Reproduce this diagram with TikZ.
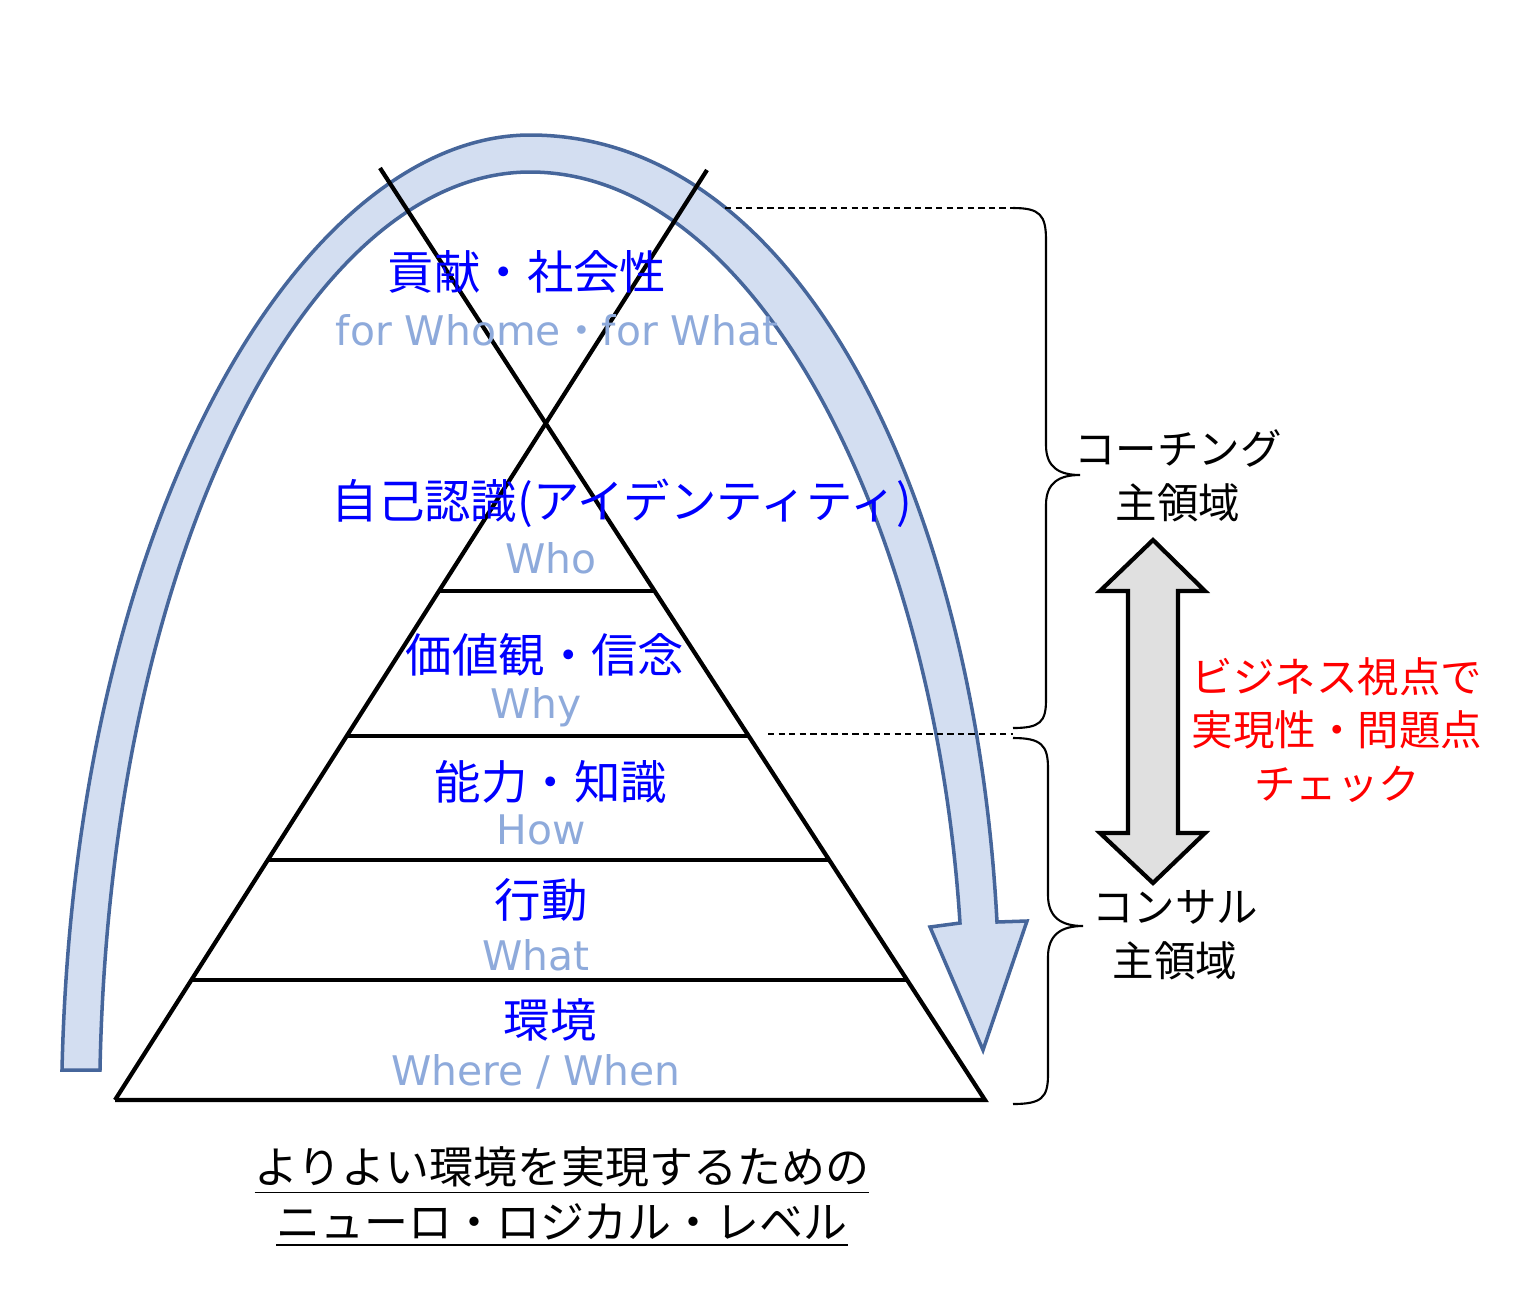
\documentclass[tikz,border=0pt]{standalone}
\usepackage{fontspec}
\setmainfont{Noto Sans CJK JP}
\newfontfamily\cjkfont{Noto Sans CJK JP}
\newfontfamily\latinfont{DejaVu Sans}
\definecolor{archline}{HTML}{46669B}
\definecolor{archfill}{HTML}{D3DEF1}
\definecolor{enblue}{HTML}{8EAADB}
\definecolor{arrowgray}{HTML}{E0E0E0}
\begin{document}
\begin{tikzpicture}[x=0.01cm,y=-0.01cm,
    jp/.style={text=blue,font=\fontsize{13.2pt}{16pt}\selectfont},
    en/.style={text=enblue,font=\latinfont\fontsize{11.6pt}{14pt}\selectfont},
    side/.style={align=center,font=\fontsize{11.8pt}{15.5pt}\selectfont}]
\useasboundingbox (0,0) rectangle (1535,1299);

% arch arrow
\draw[archline,fill=archfill,line width=1pt,line join=miter]
  (62,1070) .. controls (75,500) and (310,135) .. (530,135)
  .. controls (800,135) and (975,500) .. (997,922)
  -- (1027,921) -- (983,1050) -- (930,927) -- (960,923)
  .. controls (935,530) and (760,172) .. (530,172)
  .. controls (310,172) and (110,550) .. (100,1070) -- cycle;

% pyramid
\draw[line width=1.2pt] (115,1100) -- (985,1100) -- (380,168);
\draw[line width=1.2pt] (115,1100) -- (707,170);
\foreach \y/\l/\r in {591/440/655, 736/347/749, 860/268/829, 980/192/906}
{
    \draw[line width=1pt] (\l,\y) -- (\r,\y);
}

% labels
\foreach \n/\x/\y/\t in {1/527/272/貢献・社会性, 2/622/503/自己認識(アイデンティティ), 3/545/655/価値観・信念,
    4/551/782/能力・知識, 5/541/900/行動, 6/550/1020/環境}
{
    \node[jp] (jp\n) at (\x,\y) {\t};
}
\foreach \n/\x/\y/\t in {1/557/330/{for Whome{\cjkfont ・}for What}, 2/551/558/Who, 3/536/707/Why,
    4/541/830/How, 5/536/955/What, 6/536/1072/{Where / When}}
{
    \node[en] (en\n) at (\x,\y) {\t};
}

% dashed guides and braces
\draw[line width=0.5pt,dash pattern=on 1.8pt off 1.2pt] (725,208) -- (1013,208);
\draw[line width=0.5pt,dash pattern=on 1.8pt off 1.2pt] (768,734) -- (1013,734);
\draw[line width=0.6pt] (1013,208) .. controls (1040,208) and (1046,215) .. (1046,240) -- (1046,445)
  .. controls (1046,468) and (1060,475) .. (1080,475) .. controls (1060,475) and (1046,482) .. (1046,505)
  -- (1046,700) .. controls (1046,722) and (1040,728) .. (1013,728);
\draw[line width=0.6pt] (1013,738) .. controls (1041,738) and (1048,745) .. (1048,768) -- (1048,895)
  .. controls (1048,918) and (1062,926) .. (1083,926) .. controls (1062,926) and (1048,934) .. (1048,957)
  -- (1048,1075) .. controls (1048,1098) and (1041,1104) .. (1013,1104);

% double arrow
\draw[line width=1.2pt,fill=arrowgray] (1153,540) -- (1205,591) -- (1178,591) -- (1178,833) -- (1205,833)
  -- (1153,883) -- (1100,833) -- (1128,833) -- (1128,591) -- (1100,591) -- cycle;

\node[side] (coach) at (1178,476) {コーチング\\主領域};
\node[side] (consul) at (1175,935) {コンサル\\主領域};
\node[side,text=red,font=\fontsize{11.8pt}{15.2pt}\selectfont] (check) at (1337,730) {ビジネス視点で\\実現性・問題点\\チェック};

\node[align=center,font=\fontsize{12.5pt}{15.6pt}\selectfont] (title) at (562,1197)
  {\underline{よりよい環境を実現するための}\\\underline{ニューロ・ロジカル・レベル}};
\end{tikzpicture}
\end{document}
